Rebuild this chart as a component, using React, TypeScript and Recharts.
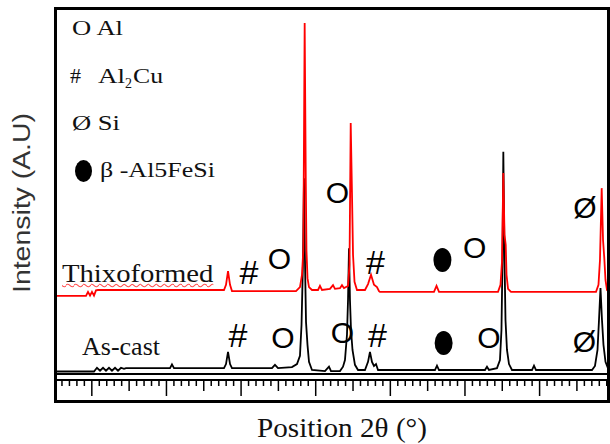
import React from "react"
import { LineChart, Line, XAxis, YAxis, ReferenceLine, ReferenceDot } from "recharts"

// 2θ (deg) / intensity (a.u.), the thixoformed trace is already offset upwards
const asCast = [
    { t: 5.2, i: 23 }, { t: 10.29, i: 23 }, { t: 10.69, i: 33 }, { t: 11.1, i: 25 }, { t: 11.5, i: 33 },
    { t: 11.9, i: 25 }, { t: 12.3, i: 33 }, { t: 12.7, i: 25 }, { t: 13.11, i: 33 }, { t: 13.51, i: 25 },
    { t: 13.91, i: 33 }, { t: 14.31, i: 30 }, { t: 14.58, i: 32 }, { t: 20.48, i: 32 }, { t: 20.74, i: 42 },
    { t: 21.01, i: 32 }, { t: 27.71, i: 32 }, { t: 27.98, i: 43 }, { t: 28.25, i: 76 }, { t: 28.52, i: 43 },
    { t: 28.78, i: 32 }, { t: 34.14, i: 32 }, { t: 34.54, i: 41 }, { t: 34.95, i: 32 }, { t: 36.82, i: 35 },
    { t: 37.49, i: 43 }, { t: 37.89, i: 65 }, { t: 38.1, i: 149 }, { t: 38.3, i: 324 }, { t: 38.43, i: 545 },
    { t: 38.56, i: 324 }, { t: 38.7, i: 157 }, { t: 38.9, i: 95 }, { t: 39.1, i: 49 }, { t: 39.5, i: 27 },
    { t: 41.24, i: 24 }, { t: 41.78, i: 36 }, { t: 42.05, i: 24 }, { t: 43.25, i: 24 }, { t: 43.66, i: 36 },
    { t: 43.92, i: 54 }, { t: 44.19, i: 122 }, { t: 44.33, i: 216 }, { t: 44.46, i: 356 }, { t: 44.59, i: 216 },
    { t: 44.73, i: 135 }, { t: 44.93, i: 81 }, { t: 45.26, i: 41 }, { t: 45.67, i: 27 }, { t: 46.6, i: 27 },
    { t: 47.01, i: 49 }, { t: 47.27, i: 76 }, { t: 47.54, i: 49 }, { t: 47.81, i: 38 }, { t: 48.08, i: 43 },
    { t: 48.35, i: 27 }, { t: 55.98, i: 27 }, { t: 56.25, i: 39 }, { t: 56.52, i: 27 }, { t: 62.68, i: 27 },
    { t: 62.95, i: 36 }, { t: 63.22, i: 27 }, { t: 64.29, i: 32 }, { t: 64.69, i: 54 }, { t: 64.89, i: 135 },
    { t: 65.03, i: 324 }, { t: 65.14, i: 616 }, { t: 65.3, i: 324 }, { t: 65.43, i: 162 }, { t: 65.63, i: 81 },
    { t: 65.9, i: 43 }, { t: 66.3, i: 27 }, { t: 68.98, i: 27 }, { t: 69.25, i: 39 }, { t: 69.52, i: 27 },
    { t: 77.02, i: 27 }, { t: 77.42, i: 38 }, { t: 77.76, i: 81 }, { t: 77.96, i: 162 }, { t: 78.16, i: 248 },
    { t: 78.36, i: 162 }, { t: 78.56, i: 95 }, { t: 78.83, i: 49 }, { t: 79.16, i: 32 }, { t: 79.3, i: 30 },
]

const thixo = [
    { t: 5.2, i: 227 }, { t: 9.22, i: 227 }, { t: 9.49, i: 238 }, { t: 9.76, i: 228 }, { t: 10.02, i: 238 },
    { t: 10.29, i: 228 }, { t: 10.56, i: 242 }, { t: 10.83, i: 243 }, { t: 27.71, i: 243 }, { t: 27.98, i: 257 },
    { t: 28.25, i: 294 }, { t: 28.52, i: 257 }, { t: 28.78, i: 240 }, { t: 37.36, i: 240 }, { t: 37.89, i: 251 },
    { t: 38.16, i: 284 }, { t: 38.34, i: 351 }, { t: 38.52, i: 964 }, { t: 38.67, i: 540 }, { t: 38.76, i: 351 },
    { t: 38.9, i: 275 }, { t: 39.1, i: 251 }, { t: 39.5, i: 243 }, { t: 40.31, i: 243 }, { t: 40.57, i: 254 },
    { t: 40.84, i: 243 }, { t: 41.91, i: 246 }, { t: 42.32, i: 256 }, { t: 42.58, i: 246 }, { t: 43.25, i: 248 },
    { t: 43.52, i: 256 }, { t: 43.79, i: 248 }, { t: 44.33, i: 254 }, { t: 44.53, i: 311 }, { t: 44.69, i: 694 },
    { t: 44.86, i: 505 }, { t: 45.0, i: 338 }, { t: 45.2, i: 265 }, { t: 45.53, i: 243 }, { t: 46.6, i: 243 },
    { t: 47.01, i: 259 }, { t: 47.41, i: 284 }, { t: 47.81, i: 257 }, { t: 48.21, i: 251 }, { t: 48.48, i: 240 },
    { t: 48.61, i: 238 }, { t: 55.85, i: 238 }, { t: 56.19, i: 254 }, { t: 56.52, i: 238 }, { t: 64.43, i: 238 },
    { t: 64.76, i: 257 }, { t: 64.96, i: 319 }, { t: 65.14, i: 559 }, { t: 65.3, i: 392 }, { t: 65.46, i: 365 },
    { t: 65.57, i: 284 }, { t: 65.77, i: 246 }, { t: 66.17, i: 238 }, { t: 77.56, i: 238 }, { t: 77.89, i: 257 },
    { t: 78.09, i: 324 }, { t: 78.32, i: 518 }, { t: 78.5, i: 378 }, { t: 78.67, i: 329 }, { t: 78.83, i: 270 },
    { t: 79.03, i: 243 }, { t: 79.3, i: 238 },
]

// phase markers placed above the peaks
const thixoMarks = [
    { t: 31.06, i: 292, s: "#" }, { t: 35.15, i: 327, s: "O" }, { t: 42.91, i: 505, s: "O" },
    { t: 48.01, i: 319, s: "#" }, { t: 56.98, i: 324, s: "dot" }, { t: 61.3, i: 359, s: "O" },
    { t: 76.08, i: 467, s: "Ø" },
]
const castMarks = [
    { t: 29.59, i: 122, s: "#" }, { t: 35.62, i: 116, s: "O" }, { t: 43.58, i: 127, s: "O" },
    { t: 48.27, i: 122, s: "#" }, { t: 57.14, i: 100, s: "dot" }, { t: 63.22, i: 116, s: "O" },
    { t: 76.0, i: 103, s: "Ø" },
]

const phases = ["O Al", "# Al2Cu", "Ø Si", "β -Al5FeSi"]

const ticks = Array.from({ length: 74 }, (_, k) => 6 + k)

const serif = "Liberation Serif"
const sans = "Liberation Sans"

const Tick = (props: any) => {
    const { x, y, payload } = props
    const v = payload.value
    const len = v % 10 === 0 ? 15 : v % 5 === 0 ? 10 : 5
    return <line x1={x} x2={x} y1={y + 1} y2={y + 1 + len} stroke="#000" strokeWidth={1.5} />
}

const Mark = (s: string) => (p: any) => {
    if (s === "dot") return <ellipse cx={p.cx} cy={p.cy} rx={9} ry={12} fill="#000" />
    return (
        <text x={p.cx} y={p.cy} textAnchor="middle" dominantBaseline="central"
            fontFamily={sans} fontSize={s === "#" ? 34 : 30} fill="#000">
            {s}
        </text>
    )
}

export default function App() {
    return (
        <div style={{ position: "absolute", left: 0, top: 0, width: 610, height: 444, background: "#fff" }}>
            <LineChart width={610} height={444} margin={{ top: 10, right: 1, bottom: 44, left: 56 }}>
                <XAxis type="number" dataKey="t" domain={[5.2, 79.3]} ticks={ticks} interval={0}
                    allowDataOverflow height={20} tickLine={false} tickSize={0} tickMargin={0}
                    axisLine={{ stroke: "#000", strokeWidth: 2 }} tick={Tick} />
                <YAxis hide type="number" domain={[0, 999]} allowDataOverflow />
                <ReferenceLine y={16} stroke="#000" strokeWidth={2} />
                <Line data={asCast} dataKey="i" type="linear" dot={false} stroke="#000"
                    strokeWidth={1.8} isAnimationActive={false} />
                <Line data={thixo} dataKey="i" type="linear" dot={false} stroke="#ff0000"
                    strokeWidth={1.8} isAnimationActive={false} />
                {[...thixoMarks, ...castMarks].map((m, k) => (
                    <ReferenceDot key={k} x={m.t} y={m.i} shape={Mark(m.s)} />
                ))}
            </LineChart>

            <svg width={610} height={444} style={{ position: "absolute", left: 0, top: 0, pointerEvents: "none" }}>
                <rect x={55.5} y={8.5} width={553} height={393} fill="none" stroke="#000" strokeWidth={3} />

                {/* legend */}
                <g fontFamily={serif} fontSize={22} fill="#111">
                    <text x={72} y={35} textLength={51} lengthAdjust="spacingAndGlyphs">{phases[0]}</text>
                    <text x={70} y={83}>#</text>
                    <text x={98} y={83} textLength={27} lengthAdjust="spacingAndGlyphs">Al</text>
                    <text x={125} y={88} fontSize={14}>2</text>
                    <text x={133} y={83} textLength={30} lengthAdjust="spacingAndGlyphs">Cu</text>
                    <text x={72} y={130} textLength={48} lengthAdjust="spacingAndGlyphs">{phases[2]}</text>
                    <ellipse cx={83.5} cy={171} rx={8.5} ry={11} fill="#000" />
                    <text x={100} y={177} textLength={115} lengthAdjust="spacingAndGlyphs">{phases[3]}</text>
                </g>

                <text x={82} y={355} fontFamily={serif} fontSize={25} fill="#111"
                    textLength={78} lengthAdjust="spacingAndGlyphs">As-cast</text>

                <text x={257} y={437} fontFamily={serif} fontSize={27} fill="#111"
                    textLength={170} lengthAdjust="spacingAndGlyphs">Position 2θ (°)</text>

                <text transform="translate(30,203) rotate(-90)" textAnchor="middle" fontFamily={sans}
                    fontSize={23} fill="#333" textLength={180} lengthAdjust="spacingAndGlyphs">Intensity (A.U)</text>
            </svg>

            <div style={{
                position: "absolute", left: 62, top: 261, fontFamily: serif, fontSize: 25, lineHeight: "25px",
                color: "#111", whiteSpace: "nowrap", transform: "scaleX(1.147)", transformOrigin: "0 0",
                textDecoration: "underline wavy #ff5050", textDecorationThickness: "1px", textUnderlineOffset: "1px",
            }}>
                Thixoformed
            </div>
        </div>
    )
}
